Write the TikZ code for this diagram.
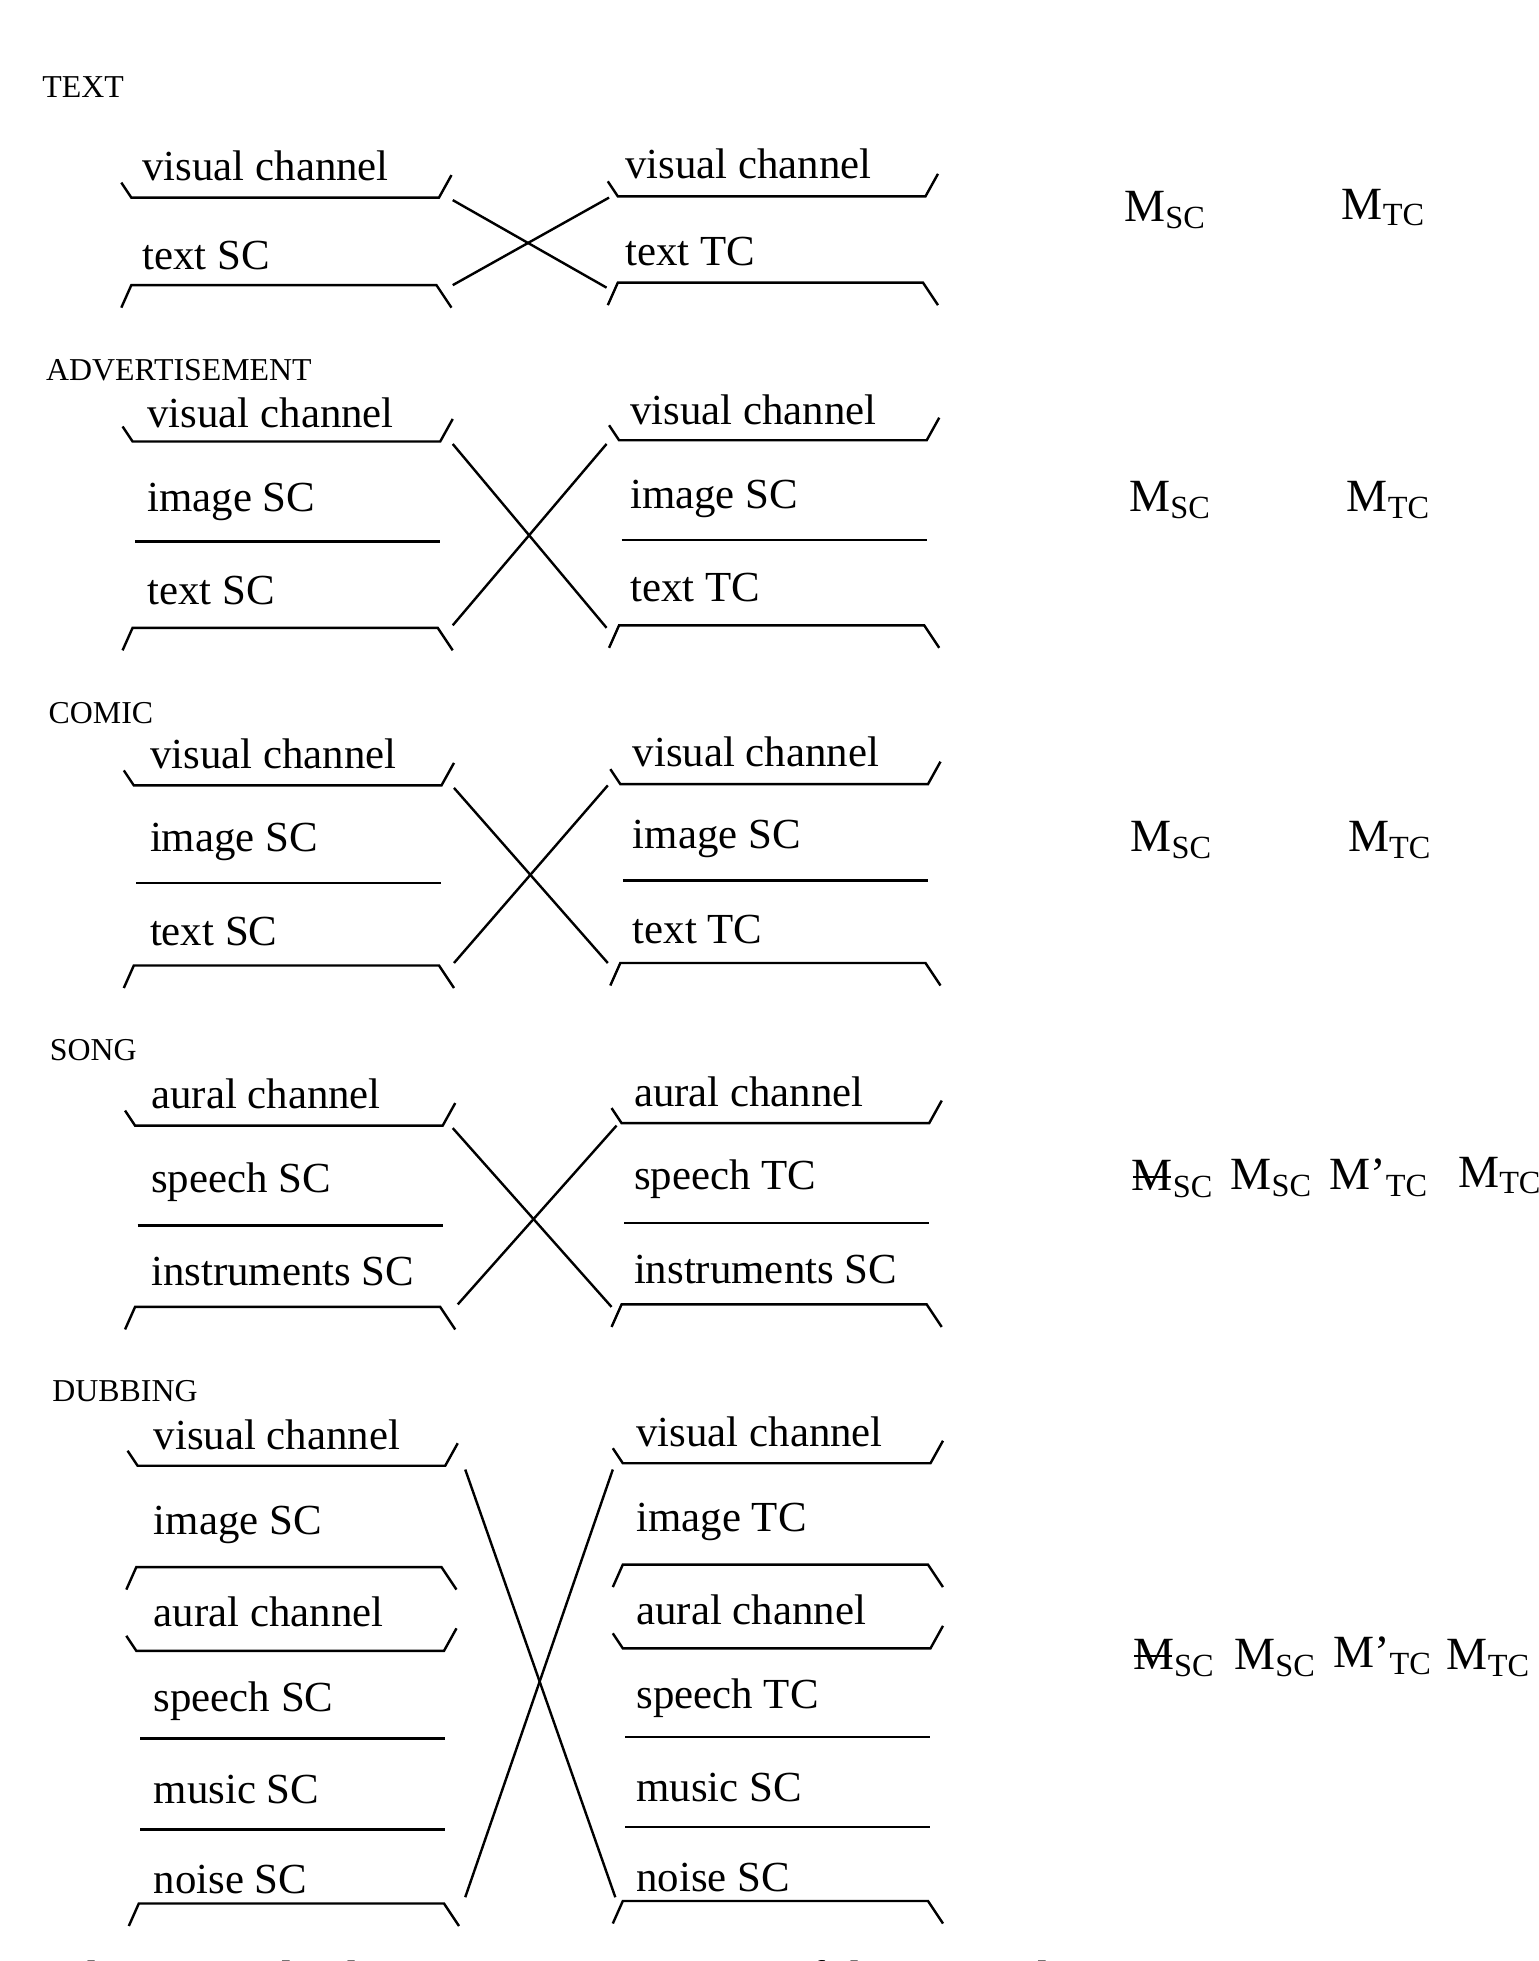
\documentclass[tikz,border=0pt]{standalone}
\usepackage{fontspec}
\setmainfont{Liberation Serif}
\usepackage{tikz}

% lower rim of a channel box (\___/) and upper rim (/---\)
\newcommand{\rimdown}[2]{\draw (#1, #2-12) -- (#1+8, #2) -- (#1+254, #2) -- (#1+264, #2-18);}
\newcommand{\rimup}[2]{\draw (#1, #2+18) -- (#1+8, #2) -- (#1+252, #2) -- (#1+264, #2+18);}
\newcommand{\midline}[2]{\draw (#1+10, #2) -- (#1+254, #2);}

\tikzset{
    chan/.style={anchor=west, font=\fontsize{19.5}{21}\selectfont, inner sep=0pt},
    kind/.style={anchor=west, font=\fontsize{14.5}{16}\selectfont, inner sep=0pt},
    msym/.style={anchor=west, font=\fontsize{21}{23}\selectfont, inner sep=0pt}
}

\begin{document}
\begin{tikzpicture}[x=0.02cm, y=-0.02cm, line width=1.1pt]
    \useasboundingbox (0, 0) rectangle (1230, 1568);
    \clip (0, 0) rectangle (1230, 1568);

    % TEXT
    \node[kind] (k1) at (33, 70) {TEXT};
    \node[chan] (a1) at (113, 133) {visual channel};
    \node[chan] (a2) at (113, 204) {text SC};
    \node[chan] (b1) at (499, 131) {visual channel};
    \node[chan] (b2) at (499, 201) {text TC};
    \rimdown{97}{158} \rimup{97}{228}
    \rimdown{486}{157} \rimup{486}{226}
    \coordinate (x1) at (362, 160); \coordinate (x2) at (362, 228);
    \coordinate (y1) at (487, 158); \coordinate (y2) at (485, 230);
    \draw (x1) -- (y2); \draw (x2) -- (y1);
    \node[msym] (m1) at (898, 168) {M\textsubscript{SC}};
    \node[msym] (n1) at (1072, 166) {M\textsubscript{TC}};

    % ADVERTISEMENT
    \node[kind] (k2) at (36, 296) {ADVERTISEMENT};
    \node[chan] (a1) at (117, 330) {visual channel};
    \node[chan] (a2) at (117, 401) {image SC};
    \node[chan] (a3) at (117, 472) {text SC};
    \node[chan] (b1) at (503, 328) {visual channel};
    \node[chan] (b2) at (503, 399) {image SC};
    \node[chan] (b3) at (503, 470) {text TC};
    \rimdown{98}{353} \midline{98}{433} \rimup{98}{502}
    \rimdown{487}{352} \midline{487}{432} \rimup{487}{500}
    \coordinate (x1) at (362, 355); \coordinate (x2) at (362, 500);
    \coordinate (y1) at (485, 355); \coordinate (y2) at (485, 502);
    \draw (x1) -- (y2); \draw (x2) -- (y1);
    \node[msym] (m2) at (902, 400) {M\textsubscript{SC}};
    \node[msym] (n2) at (1076, 400) {M\textsubscript{TC}};

    % COMIC
    \node[kind] (k3) at (38, 570) {COMIC};
    \node[chan] (a1) at (119, 603) {visual channel};
    \node[chan] (a2) at (119, 673) {image SC};
    \node[chan] (a3) at (119, 745) {text SC};
    \node[chan] (b1) at (505, 601) {visual channel};
    \node[chan] (b2) at (505, 671) {image SC};
    \node[chan] (b3) at (505, 743) {text TC};
    \rimdown{99}{628} \midline{99}{706} \rimup{99}{772}
    \rimdown{488}{627} \midline{488}{704} \rimup{488}{770}
    \coordinate (x1) at (363, 630); \coordinate (x2) at (363, 770);
    \coordinate (y1) at (486, 628); \coordinate (y2) at (486, 770);
    \draw (x1) -- (y2); \draw (x2) -- (y1);
    \node[msym] (m3) at (903, 672) {M\textsubscript{SC}};
    \node[msym] (n3) at (1077, 672) {M\textsubscript{TC}};

    % SONG
    \node[kind] (k4) at (39, 840) {SONG};
    \node[chan] (a1) at (120, 875) {aural channel};
    \node[chan] (a2) at (120, 945) {speech SC};
    \node[chan] (a3) at (120, 1017) {instruments SC};
    \node[chan] (b1) at (506, 873) {aural channel};
    \node[chan] (b2) at (506, 943) {speech TC};
    \node[chan] (b3) at (506, 1015) {instruments SC};
    \rimdown{100}{900} \midline{100}{980} \rimup{100}{1045}
    \rimdown{489}{898} \midline{489}{978} \rimup{489}{1043}
    \coordinate (x1) at (362, 902); \coordinate (x2) at (366, 1043);
    \coordinate (y1) at (493, 900); \coordinate (y2) at (489, 1045);
    \draw (x1) -- (y2); \draw (x2) -- (y1);
    \node[msym] (m4) at (904, 943) {M\textsubscript{SC}};
    \draw (m4.north west) ++(2, 14) -- ++(30, 0);
    \node[msym] (p4) at (983, 942) {M\textsubscript{SC}};
    \node[msym] (q4) at (1062, 942) {M’\textsubscript{TC}};
    \node[msym] (n4) at (1165, 940) {M\textsubscript{TC}};

    % DUBBING
    \node[kind] (k5) at (41, 1112) {DUBBING};
    \node[chan] (a1) at (122, 1147) {visual channel};
    \node[chan] (a2) at (122, 1219) {image SC};
    \node[chan] (a3) at (122, 1289) {aural channel};
    \node[chan] (a4) at (122, 1360) {speech SC};
    \node[chan] (a5) at (122, 1431) {music SC};
    \node[chan] (a6) at (122, 1503) {noise SC};
    \node[chan] (b1) at (508, 1145) {visual channel};
    \node[chan] (b2) at (508, 1217) {image TC};
    \node[chan] (b3) at (508, 1287) {aural channel};
    \node[chan] (b4) at (508, 1358) {speech TC};
    \node[chan] (b5) at (508, 1429) {music SC};
    \node[chan] (b6) at (508, 1501) {noise SC};
    \rimdown{102}{1172} \rimup{101}{1253} \rimdown{101}{1320}
    \midline{102}{1390} \midline{102}{1463} \rimup{103}{1522}
    \rimdown{490}{1170} \rimup{490}{1251} \rimdown{490}{1318}
    \midline{490}{1389} \midline{490}{1461} \rimup{490}{1520}
    \coordinate (x1) at (372, 1175); \coordinate (x2) at (372, 1517);
    \coordinate (y1) at (490, 1175); \coordinate (y2) at (492, 1517);
    \draw (x1) -- (y2); \draw (x2) -- (y1);
    \node[msym] (m5) at (905, 1326) {M\textsubscript{SC}};
    \draw (m5.north west) ++(2, 14) -- ++(30, 0);
    \node[msym] (p5) at (986, 1326) {M\textsubscript{SC}};
    \node[msym] (q5) at (1065, 1324) {M’\textsubscript{TC}};
    \node[msym] (n5) at (1156, 1326) {M\textsubscript{TC}};

    % caption, cut by the page edge
    \node[chan, font=\fontsize{22}{24}\selectfont] (cap) at (45, 1585) {The original schematic interpretation of the text is lost.};
\end{tikzpicture}
\end{document}
